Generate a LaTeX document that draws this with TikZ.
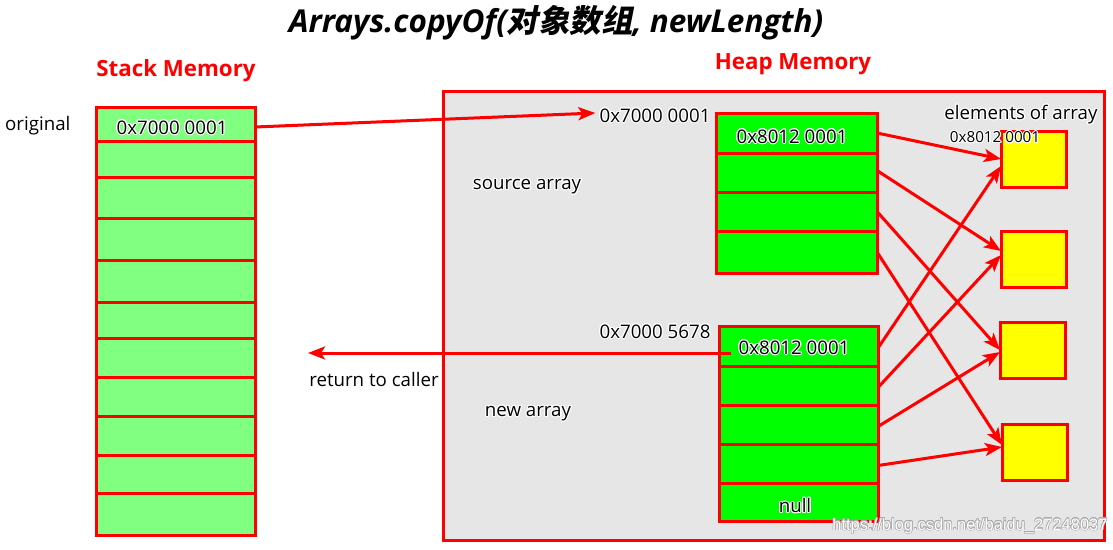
\documentclass[tikz,border=0pt]{standalone}
\usepackage{fontspec}
\setmainfont{Open Sans}
\newfontfamily\cjkfont[FakeSlant=0.2]{Noto Sans CJK SC}
\newfontfamily\wmfont{Liberation Sans}
\usepackage{contour}
\contourlength{1.1pt}
\usetikzlibrary{arrows.meta}
\newcommand{\myhalo}[1]{\contour{white}{#1}}
\definecolor{stackgreen}{RGB}{128,255,128}
\definecolor{arrgreen}{RGB}{0,255,0}
\definecolor{heapgray}{RGB}{230,230,230}
\definecolor{boxyellow}{RGB}{255,255,0}
\definecolor{wmedge}{RGB}{170,170,170}
\tikzset{
  redborder/.style={draw=red, line width=3pt},
  cellbox/.style={redborder, inner sep=0pt, outer sep=0pt, anchor=north west},
  stackcell/.style={cellbox, fill=stackgreen},
  arrcell/.style={cellbox, fill=arrgreen},
  elembox/.style={cellbox, fill=boxyellow, minimum width=65pt, minimum height=56pt},
  lbl/.style={inner sep=0pt, yshift=-3pt, font=\fontsize{18.7}{21}\selectfont},
  small/.style={inner sep=0pt, yshift=-2pt, font=\fontsize{15.2}{17}\selectfont},
  heading/.style={inner sep=0pt, yshift=-3pt, text=red, font=\fontsize{22.3}{26}\selectfont\bfseries},
  arr/.style={draw=red, line width=3pt, -{Stealth[length=17pt,width=13pt,inset=4pt]}},
}
\begin{document}
\begin{tikzpicture}[x=1pt,y=-1pt]
\useasboundingbox (0,0) rectangle (1113,549);

% title
\node[inner sep=0pt, font=\fontsize{31.5}{36}\selectfont\bfseries\itshape] (title) at (556,23)
  {Arrays.copyOf({\cjkfont 对象数组}, newLength)};

% headings
\node[heading] (stackh) at (176,68) {Stack Memory};
\node[heading] (heaph) at (793,61) {Heap Memory};
\node[lbl, anchor=west] (orig) at (5,123) {original};

% stack memory
\foreach \i/\top/\bot in {1/107/141,2/141/177,3/177/218,4/218/260,5/260/302,6/302/338,
                         7/338/377,8/377/416,9/416/455,10/455/493,11/493/535} {
  \pgfmathsetmacro{\h}{\bot-\top}
  \node[stackcell, minimum width=159pt, minimum height=\h pt] (st\i) at (96,\top) {};
}
\node[lbl] (stlabel) at (172,125) {\myhalo{0x7000 0001}};

% heap memory
\node[cellbox, fill=heapgray, minimum width=661pt, minimum height=449pt] (heap) at (443,91) {};

\node[lbl] (addr1) at (655,113) {\myhalo{0x7000 0001}};
\node[lbl] (srclbl) at (527,184) {\myhalo{source array}};
\node[lbl] (elemlbl) at (1021,112) {\myhalo{elements of array}};
\node[lbl] (addr2) at (655,329) {\myhalo{0x7000 5678}};
\node[lbl] (newlbl) at (528,411) {\myhalo{new array}};
\node[lbl] (retlbl) at (374,376) {return to caller};

% source array
\foreach \i/\top/\bot in {1/113/153,2/153/192,3/192/231,4/231/273} {
  \pgfmathsetmacro{\h}{\bot-\top}
  \node[arrcell, minimum width=161pt, minimum height=\h pt] (s\i) at (716,\top) {};
}
\node[lbl] (s1txt) at (792,134) {\myhalo{0x8012 0001}};

% new array
\foreach \i/\top/\bot in {1/326/366,2/366/405,3/405/444,4/444/483,5/483/521} {
  \pgfmathsetmacro{\h}{\bot-\top}
  \node[arrcell, minimum width=159pt, minimum height=\h pt] (n\i) at (719,\top) {};
}
\node[lbl] (n1txt) at (794,345) {\myhalo{0x8012 0001}};
\node[lbl] (n5txt) at (795,503) {\myhalo{null}};

% element boxes
\node[elembox] (e1) at (1001,131) {};
\node[elembox] (e2) at (1001,231) {};
\node[elembox] (e3) at (1000,322) {};
\node[elembox] (e4) at (1002,424) {};
\node[small] (e1txt) at (995,136) {\myhalo{0x8012 0001}};

% stack -> heap
\draw[arr] ([yshift=-3pt]st1.east) -- ([xshift=-4pt,yshift=3pt]addr1.west);

% source array -> elements
\draw[arr] (s1.east) -- (e1.west);
\draw[arr] ([yshift=2pt]s2.east) -- ([yshift=8pt]e2.west);
\draw[arr] (s3.east) -- (e3.west);
\draw[arr] (s4.east) -- ([yshift=7pt]e4.west);

% new array -> elements
\draw[arr] ([yshift=-2pt]n1.east) -- ([yshift=-7pt]e1.west);
\draw[arr] ([yshift=-2pt]n2.east) -- ([yshift=4pt]e2.west);
\draw[arr] ([yshift=-2pt]n3.east) -- ([yshift=-2pt]e3.west);
\draw[arr] ([yshift=-2pt]n4.east) -- ([yshift=5pt]e4.west);

% return to caller
\coordinate (retend) at (308,353);
\draw[arr] ([xshift=12pt,yshift=-7pt]n1.west) -- (retend);

% watermark
\node[inner sep=0pt, text=white, font=\fontsize{16.5}{19}\selectfont\wmfont] (wm) at (970,526)
  {\contourlength{0.5pt}\contour{wmedge}{https://blog.csdn.net/baidu\_27248037}};
\end{tikzpicture}
\end{document}
